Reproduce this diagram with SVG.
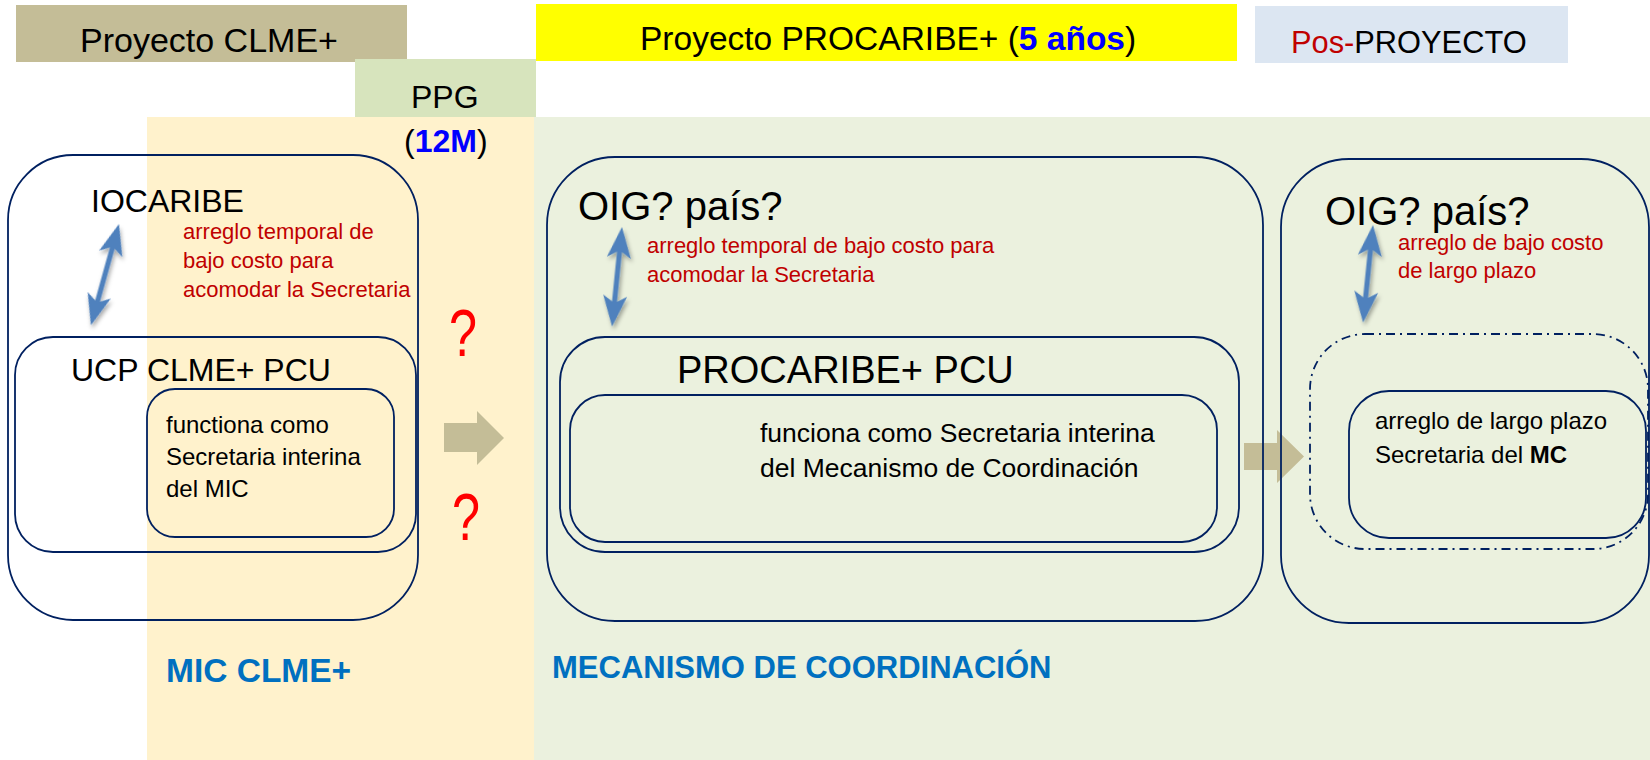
<svg xmlns="http://www.w3.org/2000/svg" width="1650" height="760" viewBox="0 0 1650 760">
<style>
text{font-family:"Liberation Sans",Arial,sans-serif;fill:#000}
.box{fill:none;stroke:#002060;stroke-width:1.8}
.dd{fill:none;stroke:#002060;stroke-width:1.8;stroke-dasharray:9 5 2 5}
.red{fill:#C00000;font-size:22px}
.blk{font-size:24px}
.title{fill:#0070C0;font-weight:bold}
.q{fill:#FF0000;font-size:66px}
.blue{fill:#4F81BD}
.tan{fill:#C4BD97}
</style>
<defs>
<filter id="sh" x="-50%" y="-20%" width="200%" height="140%">
<feDropShadow dx="2" dy="3" stdDeviation="2" flood-color="#000" flood-opacity="0.35"/>
</filter>
</defs>
<rect x="0" y="0" width="1650" height="760" fill="#FFFFFF"/>
<rect x="147" y="117" width="387" height="643" fill="#FFF2CC"/>
<rect x="534" y="117" width="1116" height="643" fill="#EBF1DE"/>
<g id="header-clme"><rect x="16" y="5" width="391" height="57" fill="#C4BD97"/><text x="80" y="52" font-size="34">Proyecto CLME+</text></g>
<g id="header-ppg"><rect x="355" y="59" width="181" height="58" fill="#D7E4BD"/><text x="411" y="108" font-size="32">PPG</text></g>
<g id="ppg-duration"><text x="404" y="152" font-size="32">(<tspan font-weight="bold" fill="#0000FF">12M</tspan>)</text></g>
<g id="header-procaribe"><rect x="536" y="4" width="701" height="57" fill="#FFFF00"/><text x="640" y="50" font-size="33.5">Proyecto PROCARIBE+ (<tspan font-weight="bold" fill="#0000FF">5 años</tspan>)</text></g>
<g id="header-pos"><rect x="1255" y="6" width="313" height="57" fill="#DCE6F2"/><text x="1291" y="53" font-size="30.8"><tspan fill="#C00000">Pos-</tspan>PROYECTO</text></g>
<g id="connectors">
<polygon class="tan" points="444,423 477,423 477,411 504,438 477,465 477,452 444,452"/>
<polygon class="tan" points="1244,443 1277,443 1277,430 1304,456.5 1277,483 1277,470 1244,470"/>
<path class="blue" filter="url(#sh)" transform="translate(119,224) rotate(15.5)" d="M0,0 L12,31 L2.5,25 L2.5,80 L12,74 L0,105 L-12,74 L-2.5,80 L-2.5,25 L-12,31 Z"/>
<path class="blue" filter="url(#sh)" transform="translate(622,227) rotate(5.7)" d="M0,0 L12,31 L2.5,25 L2.5,75 L12,69 L0,100 L-12,69 L-2.5,75 L-2.5,25 L-12,31 Z"/>
<path class="blue" filter="url(#sh)" transform="translate(1373,225) rotate(5.8)" d="M0,0 L12,31 L2.5,25 L2.5,73 L12,67 L0,98 L-12,67 L-2.5,73 L-2.5,25 L-12,31 Z"/>
</g>
<g id="iocaribe">
<rect class="box" x="8" y="155" width="410" height="465" rx="65" ry="65"/>
<text x="91" y="212" font-size="32">IOCARIBE</text>
<text class="red"><tspan x="183" y="239">arreglo temporal de</tspan><tspan x="183" y="268">bajo costo para</tspan><tspan x="183" y="297">acomodar la Secretaria</tspan></text>
</g>
<g id="ucp-clme">
<rect class="box" x="15" y="337" width="401" height="215" rx="38" ry="38"/>
<text x="71" y="381" font-size="32">UCP CLME+ PCU</text>
</g>
<g id="clme-secretaria">
<rect class="box" x="147" y="389" width="247" height="148" rx="28" ry="28"/>
<text class="blk"><tspan x="166" y="433">functiona como</tspan><tspan x="166" y="465">Secretaria interina</tspan><tspan x="166" y="497">del MIC</tspan></text>
</g>
<g id="question-marks">
<text class="q" x="449" y="356" textLength="28" lengthAdjust="spacingAndGlyphs">?</text>
<text class="q" x="452" y="540" textLength="28" lengthAdjust="spacingAndGlyphs">?</text>
</g>
<g id="oig-temp">
<rect class="box" x="547" y="157" width="716" height="464" rx="68" ry="68"/>
<text x="578" y="220" font-size="40">OIG? país?</text>
<text class="red"><tspan x="647" y="253">arreglo temporal de bajo costo para</tspan><tspan x="647" y="282">acomodar la Secretaria</tspan></text>
</g>
<g id="procaribe-pcu">
<rect class="box" x="560" y="337" width="679" height="215" rx="45" ry="45"/>
<text x="677" y="383" font-size="38">PROCARIBE+ PCU</text>
</g>
<g id="procaribe-secretaria">
<rect class="box" x="570" y="395" width="647" height="147" rx="35" ry="35"/>
<text font-size="26.5"><tspan x="760" y="442">funciona como Secretaria interina</tspan><tspan x="760" y="477">del Mecanismo de Coordinación</tspan></text>
</g>
<g id="oig-long">
<rect class="box" x="1281" y="159" width="368" height="464" rx="68" ry="68"/>
<text x="1325" y="225" font-size="40">OIG? país?</text>
<text class="red"><tspan x="1398" y="250">arreglo de bajo costo</tspan><tspan x="1398" y="278">de largo plazo</tspan></text>
</g>
<g id="future-unit">
<rect class="dd" x="1310" y="334" width="338" height="215" rx="55" ry="55"/>
</g>
<g id="long-secretaria">
<rect class="box" x="1349" y="391" width="297" height="147" rx="40" ry="40"/>
<text class="blk"><tspan x="1375" y="429">arreglo de largo plazo</tspan><tspan x="1375" y="463">Secretaria del <tspan font-weight="bold">MC</tspan></tspan></text>
</g>
<g id="labels">
<text class="title" x="166" y="682" font-size="33.5">MIC CLME+</text>
<text class="title" x="552" y="678" font-size="31">MECANISMO DE COORDINACIÓN</text>
</g>
</svg>
